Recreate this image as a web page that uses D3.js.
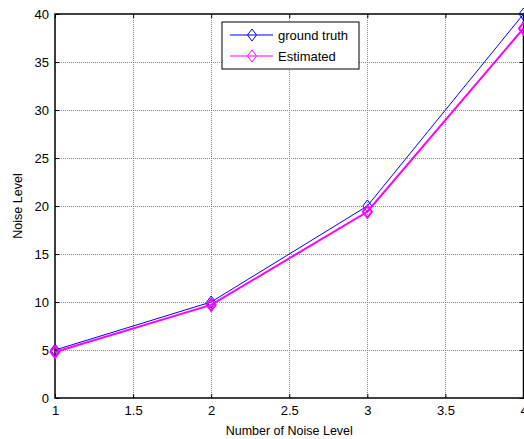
<!DOCTYPE html>
<html>
<head>
<meta charset="utf-8">
<script src="https://cdnjs.cloudflare.com/ajax/libs/d3/7.8.5/d3.min.js"></script>
<style>
  body { margin: 0; background: #fff; }
  svg { display: block; font-family: "Liberation Sans", Arial, sans-serif; }
</style>
</head>
<body>
<main></main>
<script>
const sizeOfSVG = { width: 524, height: 439 };
const margin = { left: 55, right: 0.5, top: 14, bottom: 41 };

// data
const noiseLevels = [1, 2, 3, 4];
const groundTruth = [5, 10, 20, 40];
const estimated = [4.8, 9.7, 19.4, 38.5];
const xTicks = [1, 1.5, 2, 2.5, 3, 3.5, 4];
const yTicks = [0, 5, 10, 15, 20, 25, 30, 35, 40];
const seriesNames = ["ground truth", "Estimated"];
const seriesColors = ["#0000ff", "#ff00ff"];

const svg = d3.select('main')
    .append('svg')
    .attr('width', sizeOfSVG.width)
    .attr('height', sizeOfSVG.height);

const xScale = d3.scaleLinear()
    .domain([1, 4])
    .range([margin.left, sizeOfSVG.width - margin.right]);
const yScale = d3.scaleLinear()
    .domain([0, 40])
    .range([sizeOfSVG.height - margin.bottom, margin.top]);

const x0 = xScale.range()[0], x1 = xScale.range()[1];
const y0 = yScale.range()[0], y1 = yScale.range()[1];

// grid, dotted grey
const grid = svg.append('g').attr('class', 'grid');
grid.selectAll('.vg').data(xTicks.slice(1, -1)).enter()
    .append('line')
    .attr('x1', d => Math.round(xScale(d)) + 0.5).attr('x2', d => Math.round(xScale(d)) + 0.5)
    .attr('y1', y1).attr('y2', y0)
    .attr('stroke', '#888').attr('stroke-dasharray', '1,1').attr('stroke-width', 1);
grid.selectAll('.hg').data(yTicks.slice(1, -1)).enter()
    .append('line')
    .attr('y1', d => Math.round(yScale(d)) + 0.5).attr('y2', d => Math.round(yScale(d)) + 0.5)
    .attr('x1', x0).attr('x2', x1)
    .attr('stroke', '#888').attr('stroke-dasharray', '1,1').attr('stroke-width', 1);

// axes with inward ticks (matlab style)
const fmt = d3.format('~g');
svg.append('g')
    .attr('id', 'x-axis')
    .attr('transform', `translate(0, ${y0})`)
    .call(d3.axisBottom(xScale).tickValues(xTicks).tickFormat(fmt).tickSizeInner(-4).tickSizeOuter(0).tickPadding(8))
    .call(g => g.select('.domain').remove());
svg.append('g')
    .attr('id', 'y-axis')
    .attr('transform', `translate(${x0}, 0)`)
    .call(d3.axisLeft(yScale).tickValues(yTicks).tickFormat(fmt).tickSizeInner(-4).tickSizeOuter(0).tickPadding(6))
    .call(g => g.select('.domain').remove());
svg.append('g')
    .attr('transform', `translate(0, ${y1})`)
    .call(d3.axisTop(xScale).tickValues(xTicks).tickFormat('').tickSizeInner(-4).tickSizeOuter(0))
    .call(g => g.select('.domain').remove());
svg.append('g')
    .attr('transform', `translate(${x1}, 0)`)
    .call(d3.axisRight(yScale).tickValues(yTicks).tickFormat('').tickSizeInner(-4).tickSizeOuter(0))
    .call(g => g.select('.domain').remove());

svg.selectAll('.tick text').attr('font-size', 13).attr('fill', '#000')
    .attr('font-family', '"Liberation Sans", Arial, sans-serif');
svg.selectAll('.tick line').attr('stroke', '#000');

// plot box
svg.append('rect')
    .attr('x', x0).attr('y', y1)
    .attr('width', x1 - x0).attr('height', y0 - y1)
    .attr('fill', 'none').attr('stroke', '#000').attr('stroke-width', 1.5);

// series
const diamond = (cx, cy, r) => `M${cx},${cy - r}L${cx + r * 0.75},${cy}L${cx},${cy + r}L${cx - r * 0.75},${cy}Z`;
const series = [groundTruth, estimated];
const widths = [1, 2];
series.forEach((vals, s) => {
    const line = d3.line().x((d, i) => xScale(noiseLevels[i])).y(d => yScale(d));
    svg.append('path')
        .datum(vals)
        .attr('d', line)
        .attr('fill', 'none')
        .attr('stroke', seriesColors[s])
        .attr('stroke-width', widths[s]);
    svg.selectAll(`.mk${s}`).data(vals).enter()
        .append('path')
        .attr('d', (d, i) => diamond(xScale(noiseLevels[i]), yScale(d), 6))
        .attr('fill', 'none')
        .attr('stroke', seriesColors[s])
        .attr('stroke-width', widths[s]);
});

// legend
const legend = svg.append('g').attr('transform', 'translate(222, 22)');
legend.append('rect')
    .attr('width', 137).attr('height', 47)
    .attr('fill', '#fff').attr('stroke', '#000').attr('stroke-width', 1);
seriesNames.forEach((name, s) => {
    const yy = 13 + s * 21;
    legend.append('line')
        .attr('x1', 8).attr('x2', 51).attr('y1', yy).attr('y2', yy)
        .attr('stroke', seriesColors[s]).attr('stroke-width', 1);
    legend.append('path')
        .attr('d', diamond(30, yy, 6))
        .attr('fill', 'none').attr('stroke', seriesColors[s]).attr('stroke-width', 1);
    legend.append('text')
        .attr('x', 56).attr('y', yy + 5)
        .attr('font-size', 13)
        .text(name);
});

// axis labels
svg.append('text')
    .attr('x', (x0 + x1) / 2).attr('y', 435)
    .attr('text-anchor', 'middle').attr('font-size', 12.5)
    .text('Number of Noise Level');
svg.append('text')
    .attr('transform', `translate(22, ${(y0 + y1) / 2}) rotate(-90)`)
    .attr('text-anchor', 'middle').attr('font-size', 12.5)
    .text('Noise Level');
</script>
</body>
</html>
